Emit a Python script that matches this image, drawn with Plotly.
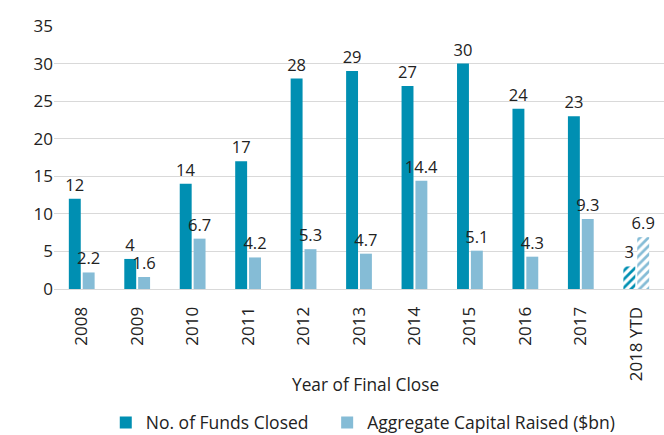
import plotly.graph_objects as go

years = ["2008", "2009", "2010", "2011", "2012", "2013", "2014", "2015", "2016", "2017", "2018 YTD"]
funds_closed = [12, 4, 14, 17, 28, 29, 27, 30, 24, 23, 3]
capital_raised = [2.2, 1.6, 6.7, 4.2, 5.3, 4.7, 14.4, 5.1, 4.3, 9.3, 6.9]
y_ticks = [0, 5, 10, 15, 20, 25, 30, 35]

DARK = "#008fb2"
LIGHT = "#85bcd6"
FONT = "Open Sans"
TXT = "#222222"

n = len(years)
shapes = [""] * (n - 1) + ["/"]

fig = go.Figure()
for vals, name, col, fmt in [
    (funds_closed, "No. of Funds Closed   ", DARK, "{:g}"),
    (capital_raised, "Aggregate Capital Raised ($bn)", LIGHT, "{:.1f}"),
]:
    fig.add_trace(go.Bar(
        x=years, y=vals, name=name,
        text=[fmt.format(v) for v in vals], textposition="outside",
        constraintext="none",
        textfont=dict(size=16.5, color=TXT, family=FONT),
        marker=dict(color=col,
                    pattern=dict(shape=shapes, fgcolor=col, bgcolor="white",
                                 fillmode="replace", size=6, solidity=0.45),
                    line=dict(width=0)),
        cliponaxis=False,
    ))

fig.update_layout(
    width=664, height=435,
    margin=dict(l=54, r=0, t=26, b=146, autoexpand=False),
    paper_bgcolor="white", plot_bgcolor="white",
    font=dict(family=FONT, size=17, color=TXT),
    barmode="group", bargap=0.5, bargroupgap=0.14,
    showlegend=True,
    uniformtext=dict(minsize=16, mode="show"),
    legend=dict(orientation="h", x=0.507, xanchor="center", y=-0.44, yanchor="top",
                font=dict(size=17.5, family=FONT, color=TXT),
                itemwidth=30, tracegroupgap=0, traceorder="normal"),
    xaxis=dict(tickangle=-90, tickfont=dict(size=17), showgrid=False, showline=False,
               ticks="outside", ticklen=10, tickcolor="rgba(0,0,0,0)",
               title=None, automargin=False),
    yaxis=dict(range=[0, 35], tickvals=y_ticks, showgrid=True, gridcolor="#d9d9d9",
               gridwidth=1, zeroline=True, zerolinecolor="#d9d9d9", zerolinewidth=1,
               tickfont=dict(size=17), ticks="", ticklen=0, automargin=False),
    annotations=[dict(text="Year of Final Close", x=0.511, xref="paper", y=-0.365, yref="paper",
                      xanchor="center", yanchor="middle", showarrow=False,
                      font=dict(size=17.3, family=FONT, color=TXT))],
)

fig.write_html("out.html")
